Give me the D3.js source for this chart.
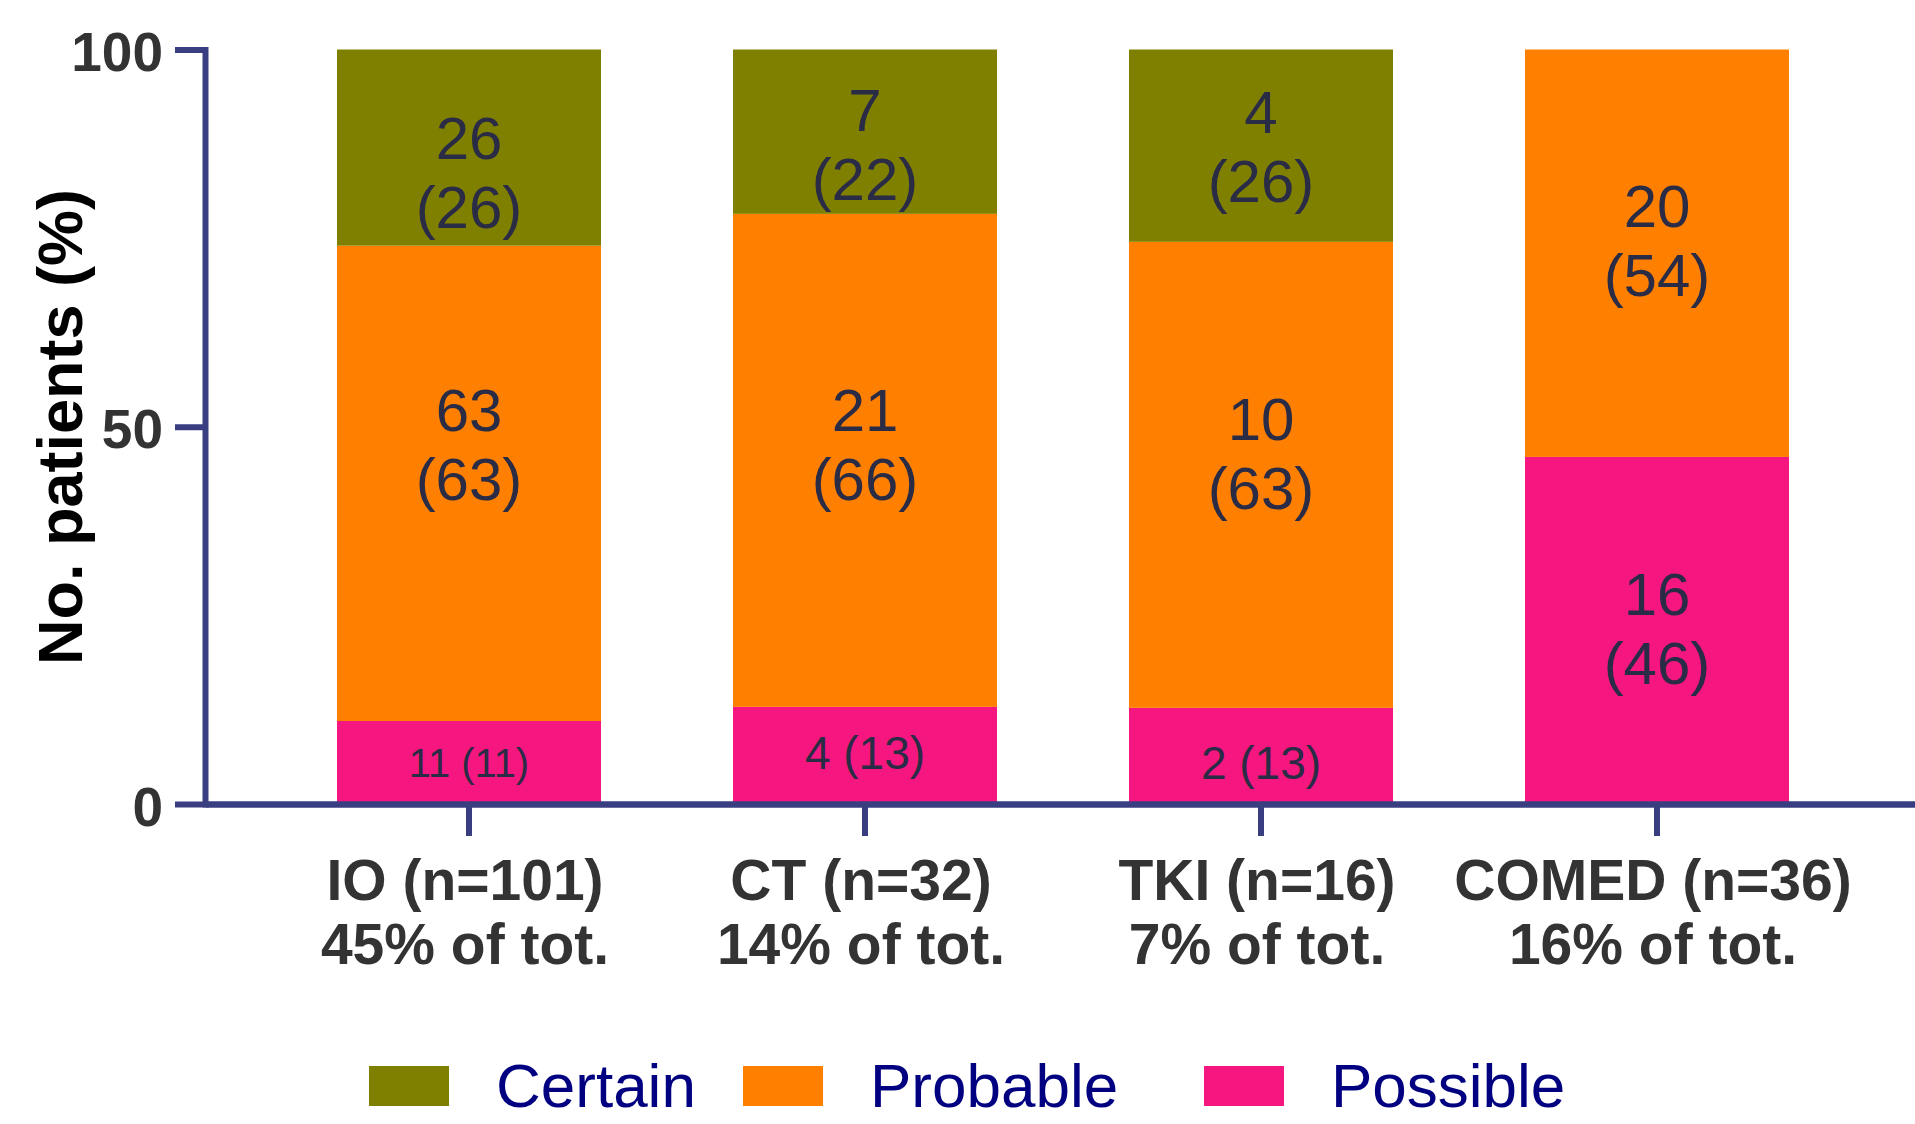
<!DOCTYPE html>
<html>
<head>
<meta charset="utf-8">
<script src="https://cdn.jsdelivr.net/npm/d3@7"></script>
<style>
  html, body { margin: 0; padding: 0; background: #ffffff; }
  svg { display: block; }
  text { font-family: "Liberation Sans", Arial, Helvetica, sans-serif; }
</style>
</head>
<body>
<svg id="chart" width="1915" height="1124"></svg>
<script>
// Treatment groups
const categories = ["IO", "CT", "TKI", "COMED"];
const groupN = [101, 32, 16, 36];
const shareOfTotal = [45, 14, 7, 16];

// Causality series (stack order bottom → top is Possible, Probable, Certain)
const seriesNames = ["Certain", "Probable", "Possible"];
const seriesColors = ["#808000", "#ff8000", "#f5177f"];

// Patient counts per group
const certainCount  = [26, 7, 4, 0];
const probableCount = [63, 21, 10, 20];
const possibleCount = [11, 4, 2, 16];

// Percent of group, as printed on the bars
const certainPct  = [26, 22, 26, 0];
const probablePct = [63, 66, 63, 54];
const possiblePct = [11, 13, 13, 46];

const yTickValues = [0, 50, 100];

// ---- table for the stack layout ----
const rows = categories.map((c, i) => ({
  cat: c,
  Certain: certainPct[i], Probable: probablePct[i], Possible: possiblePct[i],
  counts: { Certain: certainCount[i], Probable: probableCount[i], Possible: possibleCount[i] }
}));

const axisColor = "#383e80";
const svg = d3.select("#chart");

const x = d3.scaleBand()
  .domain(categories)
  .range([205, 1921])
  .paddingInner(1 / 3)
  .paddingOuter(1 / 3);

const y = d3.scaleLinear().domain([0, 100]).range([804, 49.5]);

// each column is expanded to fill 0–100 %
const stack = d3.stack()
  .keys(["Possible", "Probable", "Certain"])
  .offset(d3.stackOffsetExpand);
const layers = stack(rows);
const color = d3.scaleOrdinal().domain(seriesNames).range(seriesColors);

// bars
const gBars = svg.append("g");
layers.forEach(layer => {
  gBars.selectAll(null)
    .data(layer.filter(d => d[1] - d[0] > 0))
    .join("rect")
    .attr("x", d => x(d.data.cat))
    .attr("width", x.bandwidth())
    .attr("y", d => y(d[1] * 100))
    .attr("height", d => y(d[0] * 100) - y(d[1] * 100))
    .attr("fill", color(layer.key));
});

// value labels inside segments: "count (percent)"
const labelNudge = {
  Certain:  [24, 12, 0, 0],
  Probable: [-39, -16, -22, -13],
  Possible: [0, -3, 7, -2]
};
const inkColor = "#2a2b45";
const gLabels = svg.append("g");
layers.forEach(layer => {
  layer.forEach((d, i) => {
    if (d[1] - d[0] <= 0) return;
    const key = layer.key;
    const top = y(d[1] * 100), bot = y(d[0] * 100);
    const h = bot - top;
    const cx = x(d.data.cat) + x.bandwidth() / 2;
    const cy = (top + bot) / 2 + labelNudge[key][i];
    const cnt = d.data.counts[key];
    const pct = d.data[key];
    if (h < 120) {
      const fs = Math.min(46, h * 0.48);
      gLabels.append("text")
        .attr("x", cx).attr("y", cy + fs * 0.36)
        .attr("text-anchor", "middle")
        .attr("font-size", fs)
        .attr("fill", inkColor)
        .text(`${cnt} (${pct})`);
    } else {
      const t = gLabels.append("text")
        .attr("text-anchor", "middle")
        .attr("font-size", 60)
        .attr("fill", inkColor);
      t.append("tspan").attr("x", cx).attr("y", cy - 13).text(cnt);
      t.append("tspan").attr("x", cx).attr("y", cy + 56).text(`(${pct})`);
    }
  });
});

// y axis
const gy = svg.append("g")
  .attr("transform", "translate(205,0)")
  .call(d3.axisLeft(y).tickValues(yTickValues).tickSize(30).tickSizeOuter(0).tickPadding(12));
gy.select(".domain").attr("stroke", axisColor).attr("stroke-width", 6).attr("stroke-linecap", "square");
gy.selectAll(".tick line").attr("stroke", axisColor).attr("stroke-width", 6);
gy.selectAll(".tick text")
  .attr("font-family", '"Liberation Sans", Arial, sans-serif')
  .attr("font-size", 55).attr("font-weight", "bold").attr("fill", "#333333")
  .attr("dy", null).attr("y", 21);

// x axis
const gx = svg.append("g")
  .attr("transform", "translate(0,804)")
  .call(d3.axisBottom(x).tickSize(32).tickSizeOuter(0).tickPadding(0));
gx.select(".domain").attr("stroke", axisColor).attr("stroke-width", 6.5);
gx.selectAll(".tick line").attr("stroke", axisColor).attr("stroke-width", 6);
gx.selectAll(".tick text").each(function (d, i) {
  const t = d3.select(this)
    .text(null)
    .attr("dy", null).attr("y", null)
    .attr("font-family", '"Liberation Sans", Arial, sans-serif')
    .attr("font-size", 57).attr("font-weight", "bold").attr("fill", "#333333");
  t.append("tspan").attr("x", -4).attr("y", 96).text(`${d} (n=${groupN[i]})`);
  t.append("tspan").attr("x", -4).attr("y", 160).text(`${shareOfTotal[i]}% of tot.`);
});

// y axis title
svg.append("text")
  .attr("transform", "translate(82,427) rotate(-90)")
  .attr("text-anchor", "middle")
  .attr("font-size", 63).attr("font-weight", "bold").attr("fill", "#000000")
  .text("No. patients (%)");

// legend
const legendX = [369, 743, 1204];
const gLeg = svg.append("g");
seriesNames.forEach((name, i) => {
  gLeg.append("rect")
    .attr("x", legendX[i]).attr("y", 1066)
    .attr("width", 80).attr("height", 40)
    .attr("fill", color(name));
  gLeg.append("text")
    .attr("x", legendX[i] + 127).attr("y", 1107)
    .attr("font-size", 62).attr("fill", "#000080")
    .text(name);
});
</script>
</body>
</html>
